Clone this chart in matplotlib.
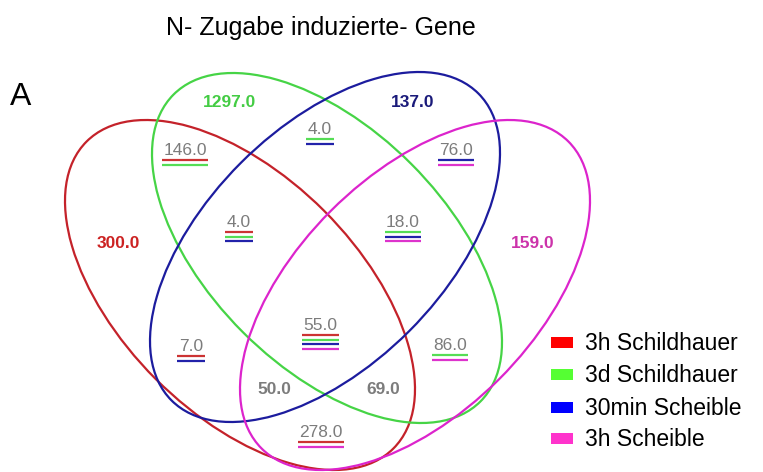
import matplotlib
matplotlib.use("Agg")
import matplotlib.pyplot as plt
from matplotlib.patches import Ellipse, Rectangle

plt.rcParams['font.family'] = ['Liberation Sans', 'DejaVu Sans']

# Data
set_names = ["3h Schildhauer", "3d Schildhauer", "30min Scheible", "3h Scheible"]
legend_colors = ["#ff0000", "#55ff33", "#0000ff", "#ff33cc"]
ring_colors = ["#c4222a", "#46d446", "#1c1c9e", "#dc24cc"]
bold_colors = ["#cc2222", "#44cc44", "#1a1a7a", "#cc33aa"]

# membership code: red, green, blue, magenta
region_keys = ["1000", "0100", "0010", "0001",
               "1100", "0110", "0011", "1110", "0111",
               "1111", "1010", "0101", "1011", "1101", "1001"]
region_counts = [300, 1297, 137, 159,
                 146, 4, 76, 4, 18,
                 55, 7, 86, 50, 69, 278]
underlined = [False, False, False, False,
              True, True, True, True, True,
              True, True, True, False, False, True]

# Layout (pixel coords, y downwards)
ell_centers = [(240, 295), (327, 248), (325, 247), (415, 295)]
ell_angles = [45, 45, -45, -45]
ell_w, ell_h = 434, 238
label_xy = [(118, 248), (229, 107), (413, 107), (533, 248),
            (185, 155), (320, 134), (456, 155), (239, 227), (403, 227),
            (320, 330), (191, 351), (450, 350), (274, 394), (383, 394),
            (321, 437)]
line_colors = ["#cc3333", "#55dd55", "#2222aa", "#dd33cc"]
gray = "#7c7c7c"

fig = plt.figure(figsize=(7.63, 4.72), dpi=100)
ax = fig.add_axes([0, 0, 1, 1])
ax.set_xlim(0, 763)
ax.set_ylim(472, 0)
ax.axis("off")

for c, ang, col in zip(ell_centers, ell_angles, ring_colors):
    ax.add_patch(Ellipse(c, ell_w, ell_h, angle=ang, fill=False,
                         edgecolor=col, linewidth=1.6))

ax.text(321, 35, "N- Zugabe induzierte- Gene", ha="center", va="baseline",
        fontsize=18)
ax.text(10, 105, "A", ha="left", va="baseline", fontsize=23)

renderer = fig.canvas.get_renderer()
for key, n, (x, y), ul in zip(region_keys, region_counts, label_xy, underlined):
    members = [i for i, ch in enumerate(key) if ch == "1"]
    if len(members) == 1:
        t = ax.text(x, y, f"{n:.1f}", ha="center", va="baseline",
                    fontsize=12.5, fontweight="bold",
                    color=bold_colors[members[0]])
        continue
    t = ax.text(x, y, f"{n:.1f}", ha="center", va="baseline", fontsize=12.5,
                color=gray, fontweight="normal" if ul else "bold")
    if not ul:
        continue
    w = t.get_window_extent(renderer).width + 3
    for k, m in enumerate(members):
        yy = y + 5 + 4.6 * k
        ax.plot([x - w / 2, x + w / 2], [yy, yy], color=line_colors[m],
                linewidth=1.6, solid_capstyle="butt")

# legend
leg_y = [342, 374, 407, 438]
for name, col, yc in zip(set_names, legend_colors, leg_y):
    ax.add_patch(Rectangle((551, yc - 5.5), 22, 11, facecolor=col,
                           edgecolor="none"))
    ax.text(585, yc + 8, name, ha="left", va="baseline", fontsize=16.5)

fig.savefig("out.png", dpi=100)
